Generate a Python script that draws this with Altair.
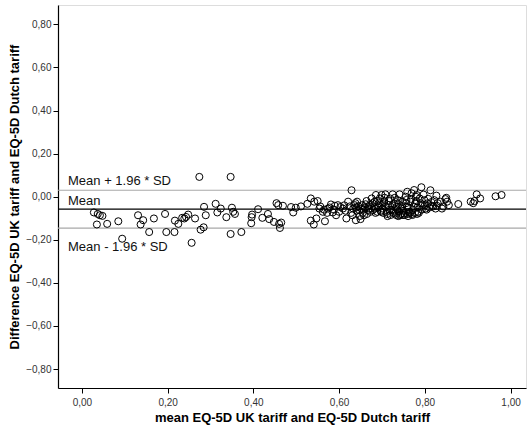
import altair as alt
import pandas as pd

# mean of the two tariffs (x) and their difference (y)
mean_vals = [
    0.028, 0.037, 0.042, 0.048, 0.035, 0.059, 0.085, 0.094, 0.131, 0.137,
    0.143, 0.157, 0.168, 0.194, 0.197, 0.216, 0.217, 0.225, 0.234, 0.239,
    0.243, 0.248, 0.256, 0.264, 0.274, 0.277, 0.284, 0.285, 0.289, 0.312,
    0.316, 0.324, 0.337, 0.347, 0.347, 0.350, 0.353, 0.357, 0.372, 0.395,
    0.396, 0.397, 0.411, 0.421, 0.434, 0.437, 0.448, 0.454, 0.458, 0.460,
    0.462, 0.465, 0.469, 0.488, 0.493, 0.499, 0.511, 0.526, 0.534, 0.534,
    0.542, 0.541, 0.547, 0.550, 0.554, 0.562, 0.567, 0.574, 0.581, 0.585,
    0.593, 0.597, 0.609, 0.617, 0.621, 0.629, 0.631, 0.636, 0.639, 0.642,
    0.647, 0.650, 0.654, 0.658, 0.664, 0.668, 0.672, 0.676, 0.679, 0.683,
    0.686, 0.689, 0.692, 0.695, 0.699, 0.701, 0.705, 0.708, 0.711, 0.715,
    0.719, 0.722, 0.725, 0.728, 0.731, 0.734, 0.737, 0.741, 0.742, 0.745,
    0.748, 0.752, 0.755, 0.758, 0.759, 0.763, 0.766, 0.769, 0.772, 0.775,
    0.778, 0.781, 0.784, 0.788, 0.792, 0.795, 0.799, 0.802, 0.806, 0.813,
    0.817, 0.822, 0.827, 0.828, 0.836, 0.840, 0.848, 0.852, 0.856, 0.878,
    0.907, 0.913, 0.916, 0.921, 0.929, 0.965, 0.979,
    0.556, 0.565, 0.572, 0.578, 0.588, 0.590, 0.600, 0.603,
    0.612, 0.615, 0.625, 0.628, 0.633, 0.638, 0.641, 0.645, 0.648, 0.652, 0.655,
    0.660, 0.662, 0.665, 0.670, 0.673, 0.678, 0.681, 0.685, 0.688, 0.690, 0.694,
    0.697, 0.700,
    0.703, 0.706, 0.709, 0.712, 0.716, 0.718, 0.720, 0.724, 0.727, 0.730, 0.733,
    0.736, 0.739, 0.740, 0.744, 0.747, 0.750,
    0.753, 0.756, 0.760, 0.762, 0.765, 0.768, 0.770, 0.774, 0.777, 0.780, 0.783,
    0.786, 0.790, 0.793, 0.797, 0.800,
    0.804, 0.808, 0.811, 0.815, 0.820, 0.825, 0.830, 0.843, 0.850,
    0.640, 0.657, 0.668, 0.683, 0.698, 0.713, 0.726, 0.738, 0.749, 0.761,
    0.771, 0.782, 0.705, 0.732, 0.757, 0.779,
]
diff_vals = [
    -0.073, -0.080, -0.086, -0.089, -0.129, -0.126, -0.114, -0.195, -0.086, -0.129,
    -0.109, -0.164, -0.101, -0.080, -0.164, -0.164, -0.111, -0.126, -0.098, -0.101,
    -0.094, -0.083, -0.214, -0.101, 0.092, -0.153, -0.142, -0.047, -0.086, -0.033,
    -0.073, -0.055, -0.095, 0.092, -0.173, -0.051, -0.070, -0.080, -0.164, -0.123,
    -0.095, -0.083, -0.058, -0.098, -0.080, -0.104, -0.117, -0.030, -0.039, -0.126,
    -0.145, -0.120, -0.042, -0.048, -0.073, -0.051, -0.045, -0.033, -0.008, -0.111,
    -0.023, -0.129, -0.101, -0.020, -0.055, -0.070, -0.114, -0.055, -0.036, -0.073,
    -0.086, -0.039, -0.055, -0.101, -0.023, 0.030, -0.086, -0.039, -0.109, -0.023,
    -0.062, -0.104, -0.039, -0.086, -0.020, -0.062, -0.039, -0.008, -0.062, -0.023,
    0.008, -0.070, -0.042, -0.008, 0.008, -0.055, -0.023, 0.011, -0.070, -0.039,
    -0.008, -0.062, 0.011, -0.031, -0.078, -0.047, -0.016, 0.011, -0.086, -0.055,
    -0.023, -0.078, 0.000, -0.047, 0.023, -0.070, -0.023, 0.016, -0.062, 0.031,
    -0.031, 0.008, -0.070, -0.008, 0.044, -0.039, -0.016, -0.055, -0.031, 0.030,
    -0.042, -0.016, 0.005, -0.042, -0.023, -0.055, -0.011, -0.023, -0.039, -0.034,
    -0.023, -0.030, -0.020, 0.011, -0.008, 0.002, 0.008,
    -0.045, -0.060, -0.075, -0.050, -0.060, -0.042, -0.070, -0.048,
    -0.040, -0.065, -0.045, -0.075, -0.055, -0.030, -0.065, -0.045, -0.090, -0.055, -0.075,
    -0.050, -0.035, -0.080, -0.055, -0.070, -0.030, -0.045, -0.075, -0.020, -0.050, -0.030,
    -0.065, -0.040,
    -0.075, -0.005, -0.045, -0.080, -0.020, -0.060, -0.085, -0.040, -0.065, -0.005, -0.085,
    -0.060, -0.035, -0.070, -0.080, -0.045, -0.065,
    -0.085, -0.030, -0.080, -0.050, -0.075, -0.010, -0.080, -0.045, -0.075, -0.020, -0.050,
    -0.075, -0.030, -0.060, 0.010, -0.040,
    -0.060, -0.010, -0.050, -0.025, -0.045, -0.055, -0.030, -0.045, -0.005,
    -0.050, -0.060, -0.045, -0.055, -0.070, -0.090, -0.075, -0.090, -0.085, -0.090,
    -0.085, -0.080, -0.030, -0.025, -0.015, 0.000,
]

# reference lines: mean difference and limits of agreement
line_names = ["Mean + 1.96 * SD", "Mean", "Mean - 1.96 * SD"]
line_values = [0.030, -0.058, -0.146]
line_colors = ["#a8a8a8", "#000000", "#a8a8a8"]
label_offsets = [-9, -8, 19]

x_ticks = [0.0, 0.2, 0.4, 0.6, 0.8, 1.0]
y_ticks = [-0.8, -0.6, -0.4, -0.2, 0.0, 0.2, 0.4, 0.6, 0.8]

FONT = "Liberation Sans"
comma_fmt = "replace(format(datum.value, '.2f'), '.', ',')"

pts = pd.DataFrame({"m": mean_vals, "d": diff_vals})
lines = pd.DataFrame({"name": line_names, "v": line_values, "c": line_colors})

x_scale = alt.Scale(domain=[-0.0557, 1.036], nice=False, zero=False)
y_scale = alt.Scale(domain=[-0.888, 0.89], nice=False, zero=False)

points = alt.Chart(pts).mark_point(
    shape="circle", filled=False, size=50, color="#000000", strokeWidth=1, opacity=1
).encode(
    x=alt.X("m:Q", scale=x_scale, axis=alt.Axis(
        values=x_ticks, labelExpr=comma_fmt, grid=False,
        title="mean EQ-5D UK tariff and EQ-5D Dutch tariff",
        titleFont=FONT, titleFontSize=13, titleFontWeight="bold", titleColor="#000",
        titlePadding=4,
        labelFont=FONT, labelFontSize=10, labelColor="#333", labelPadding=4,
        tickSize=5, tickColor="#000", domainColor="#000", domainWidth=1.2,
    )),
    y=alt.Y("d:Q", scale=y_scale, axis=alt.Axis(
        values=y_ticks, labelExpr=comma_fmt, grid=False,
        title="Difference EQ-5D UK tariff and EQ-5D Dutch tariff",
        titleFont=FONT, titleFontSize=13, titleFontWeight="bold", titleColor="#000",
        titlePadding=4,
        labelFont=FONT, labelFontSize=10, labelColor="#333", labelPadding=2,
        tickSize=5, tickColor="#000", domainColor="#000", domainWidth=1.2,
    )),
)

rules = alt.Chart(lines).mark_rule(strokeWidth=1.2).encode(
    y=alt.Y("v:Q", scale=y_scale),
    color=alt.Color("c:N", scale=None),
)

texts = []
for name, val, off in zip(line_names, line_values, label_offsets):
    texts.append(
        alt.Chart(lines[lines["name"] == name]).mark_text(
            align="left", baseline="middle", font=FONT, fontSize=13,
            color="#111", dy=off,
        ).encode(
            x=alt.value(10),
            y=alt.Y("v:Q", scale=y_scale),
            text="name:N",
        )
    )

chart = alt.layer(rules, points, *texts).properties(
    width=468, height=383,
    padding={"left": 58, "top": 5, "right": 1, "bottom": 41},
    autosize=alt.AutoSizeParams(type="none"),
).configure_view(stroke="#888888", strokeWidth=1.2).configure(background="white")

chart.save("out.html", embed_options={"renderer": "svg", "actions": False})
